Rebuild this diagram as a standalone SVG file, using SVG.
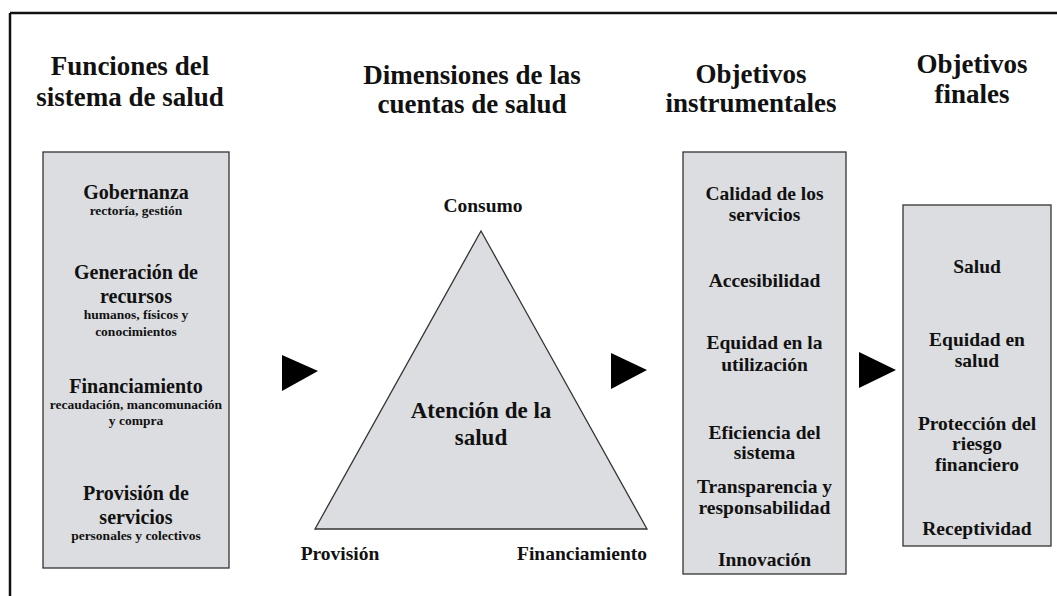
<svg xmlns="http://www.w3.org/2000/svg" width="1057" height="596" viewBox="0 0 1057 596">
<style>
text{font-family:"Liberation Serif","Times New Roman",serif;font-weight:bold;fill:#111;text-anchor:middle}
.h{font-size:27px}
.b{font-size:20px}
.s{font-size:13.5px}
.m{font-size:19.5px}
.box{fill:#dcdde0;stroke:#333;stroke-width:1.3}
.arr{fill:#000}
</style>
<rect width="1057" height="596" fill="#fff"/>
<g id="frame">
<path d="M10,13 H1057 M10,13 V596" fill="none" stroke="#111" stroke-width="2.5"/>
</g>
<g id="headers">
<text class="h" x="130" y="75">Funciones del</text>
<text class="h" x="130" y="106">sistema de salud</text>
<text class="h" x="472" y="84">Dimensiones de las</text>
<text class="h" x="472" y="113">cuentas de salud</text>
<text class="h" x="751" y="83">Objetivos</text>
<text class="h" x="751" y="112">instrumentales</text>
<text class="h" x="972" y="73">Objetivos</text>
<text class="h" x="972" y="103">finales</text>
</g>
<g id="funciones">
<rect class="box" x="43" y="152" width="186" height="416"/>
<text class="b" x="136" y="199">Gobernanza</text>
<text class="s" x="136" y="215">rectoría, gestión</text>
<text class="b" x="136" y="279">Generación de</text>
<text class="b" x="136" y="303">recursos</text>
<text class="s" x="136" y="319">humanos, físicos y</text>
<text class="s" x="136" y="336">conocimientos</text>
<text class="b" x="136" y="393">Financiamiento</text>
<text class="s" x="136" y="409">recaudación, mancomunación</text>
<text class="s" x="136" y="425">y compra</text>
<text class="b" x="136" y="500">Provisión de</text>
<text class="b" x="136" y="524">servicios</text>
<text class="s" x="136" y="540">personales y colectivos</text>
</g>
<g id="dimensiones">
<polygon class="box" points="481,231 315,529 647,529"/>
<text class="m" x="483" y="212">Consumo</text>
<text style="font-size:23px" x="481" y="418">Atención de la</text>
<text style="font-size:23px" x="481" y="445">salud</text>
<text class="m" x="340" y="560">Provisión</text>
<text class="m" x="582" y="560">Financiamiento</text>
</g>
<g id="instrumentales">
<rect class="box" x="683" y="152" width="163" height="422"/>
<text class="m" x="764.5" y="200">Calidad de los</text>
<text class="m" x="764.5" y="221">servicios</text>
<text class="m" x="764.5" y="287">Accesibilidad</text>
<text class="m" x="764.5" y="349">Equidad en la</text>
<text class="m" x="764.5" y="371">utilización</text>
<text class="m" x="764.5" y="439">Eficiencia del</text>
<text class="m" x="764.5" y="459">sistema</text>
<text class="m" x="764.5" y="493">Transparencia y</text>
<text class="m" x="764.5" y="514">responsabilidad</text>
<text class="m" x="764.5" y="566">Innovación</text>
</g>
<g id="finales">
<rect class="box" x="903" y="205" width="148" height="341"/>
<text class="m" x="977" y="273">Salud</text>
<text class="m" x="977" y="346">Equidad en</text>
<text class="m" x="977" y="367">salud</text>
<text class="m" x="977" y="430">Protección del</text>
<text class="m" x="977" y="450">riesgo</text>
<text class="m" x="977" y="471">financiero</text>
<text class="m" x="977" y="535">Receptividad</text>
</g>
<g id="connectors">
<polygon class="arr" points="282,355 318,371 282,391"/>
<polygon class="arr" points="611,353 647,370 611,389"/>
<polygon class="arr" points="859,352 896,370 859,388"/>
</g>
</svg>
